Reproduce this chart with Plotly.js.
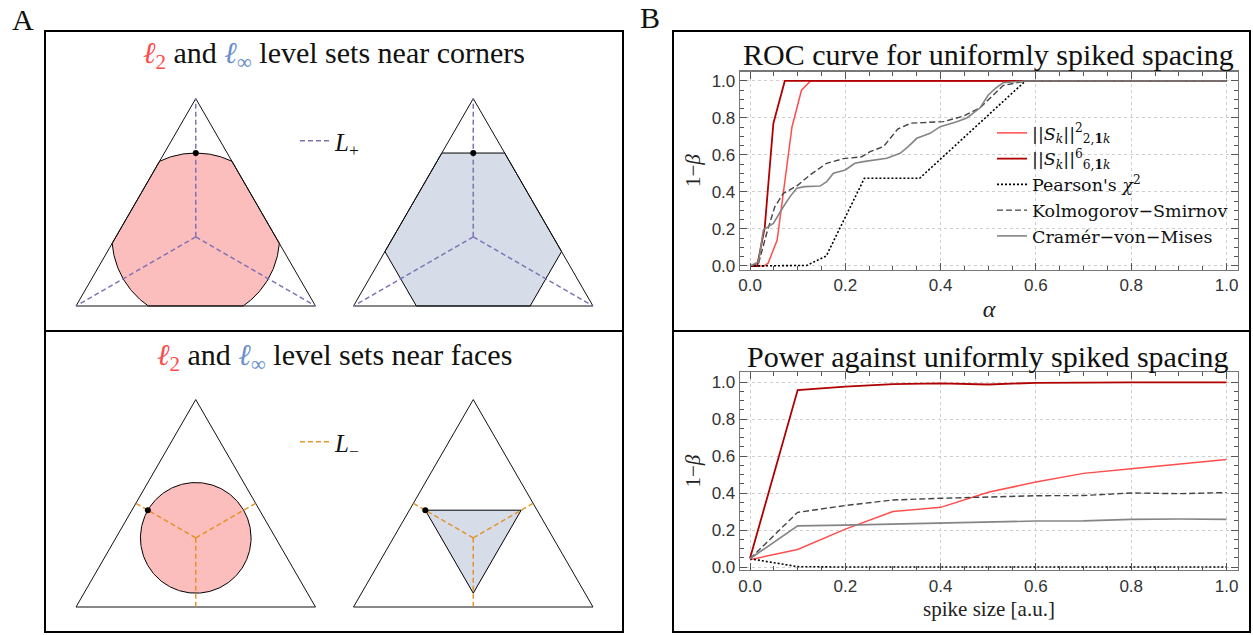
<!DOCTYPE html>
<html><head><meta charset="utf-8">
<script src="https://cdn.plot.ly/plotly-3.0.1.min.js"></script>
<style>html,body{margin:0;padding:0;background:#fff}#chart{width:1253px;height:635px}</style>
</head><body><div id="chart"></div>
<script>
const W = 1253, H = 635;

// ---------- Panel B (top): ROC curve for uniformly spiked spacing ----------
const rocL2X  = [0, 0.03, 0.038, 0.057, 0.088, 0.108, 0.127, 1.0];
const rocL2Y  = [0, 0, 0.015, 0.14, 0.75, 0.95, 1.0, 1.0];
const rocL6X  = [0, 0.015, 0.031, 0.049, 0.073, 1.0];
const rocL6Y  = [0, 0, 0.21, 0.77, 1.0, 1.0];
const rocChiX = [0, 0.119, 0.16, 0.24, 0.356, 0.578, 1.0];
const rocChiY = [0, 0.003, 0.054, 0.474, 0.474, 1.0, 1.0];
const rocKSX  = [0, 0.018, 0.035, 0.052, 0.07, 0.098, 0.126, 0.161, 0.196, 0.234, 0.252, 0.28, 0.31, 0.338, 0.364, 0.406, 0.448, 0.483, 0.531, 0.578, 1.0];
const rocKSY  = [0, 0.014, 0.177, 0.32, 0.393, 0.432, 0.492, 0.555, 0.58, 0.59, 0.618, 0.645, 0.74, 0.772, 0.775, 0.78, 0.81, 0.855, 0.975, 1.0, 1.0];
const rocCvMX = [0, 0.018, 0.028, 0.049, 0.07, 0.084, 0.098, 0.115, 0.147, 0.161, 0.175, 0.2, 0.22, 0.238, 0.287, 0.315, 0.332, 0.35, 0.378, 0.399, 0.434, 0.455, 0.483, 0.5, 0.515, 0.531, 0.578, 1.0];
const rocCvMY = [0, 0.023, 0.195, 0.23, 0.32, 0.375, 0.42, 0.429, 0.432, 0.456, 0.501, 0.519, 0.555, 0.564, 0.582, 0.609, 0.645, 0.69, 0.717, 0.753, 0.78, 0.80, 0.855, 0.924, 0.96, 0.99, 1.0, 1.0];

// ---------- Panel B (bottom): Power against uniformly spiked spacing ----------
const spikeSize = [0, 0.1, 0.2, 0.3, 0.4, 0.5, 0.6, 0.7, 0.8, 0.9, 1.0];
const powL2  = [0.04, 0.095, 0.205, 0.30, 0.323, 0.405, 0.46, 0.507, 0.532, 0.555, 0.582];
const powL6  = [0.047, 0.958, 0.976, 0.99, 0.994, 0.988, 0.997, 1.0, 1.0, 1.0, 1.0];
const powChi = [0.045, 0.002, 0, 0, 0, 0, 0, 0, 0, 0, 0];
const powKS  = [0.045, 0.296, 0.333, 0.363, 0.372, 0.378, 0.386, 0.387, 0.401, 0.397, 0.403];
const powCvM = [0.045, 0.223, 0.227, 0.232, 0.238, 0.245, 0.249, 0.25, 0.258, 0.26, 0.258];

const seriesNames = [
  '||<i>S</i><sub><i>k</i></sub>||<sup>2</sup><sub>2,<b>1</b><i>k</i></sub>',
  '||<i>S</i><sub><i>k</i></sub>||<sup>6</sup><sub>6,<b>1</b><i>k</i></sub>',
  "Pearson's <i>χ</i><sup>2</sup>",
  'Kolmogorov−Smirnov',
  'Cramér−von−Mises'
];
const tickValues = [0, 0.2, 0.4, 0.6, 0.8, 1.0];

// ---------- Panel A: simplex geometry ----------
const simplexX = [0, 1, 0.5];
const simplexY = [0, 0, 0.8660254];
const cornerLevel = [0.35];   // l2 radius / l_inf inradius near corners
const faceLevel   = [0.231];  // l2 radius / l_inf circumradius near faces

// ---------- styles ----------
const serif = 'Liberation Serif, Times New Roman, serif';
const legSerif = 'DejaVu Serif, Liberation Serif, serif';
const sans = 'Liberation Sans, Arial, sans-serif';
const lineStyles = [
  {color:'#ff4d4d', width:1.5},
  {color:'#b00000', width:1.8},
  {color:'#000000', width:1.6, dash:'2px,2px'},
  {color:'#444444', width:1.4, dash:'6px,3px'},
  {color:'#858585', width:1.6}
];

const traces = [];
const rocX = [rocL2X, rocL6X, rocChiX, rocKSX, rocCvMX];
const rocY = [rocL2Y, rocL6Y, rocChiY, rocKSY, rocCvMY];
const powY = [powL2, powL6, powChi, powKS, powCvM];
for (let i = 0; i < 5; i++) {
  traces.push({x: rocX[i], y: rocY[i], type:'scatter', mode:'lines', name: seriesNames[i],
    line: lineStyles[i], xaxis:'x', yaxis:'y', legend:'legend', showlegend:true});
}
for (let i = 0; i < 5; i++) {
  traces.push({x: spikeSize, y: powY[i], type:'scatter', mode:'lines', name: seriesNames[i],
    line: lineStyles[i], xaxis:'x2', yaxis:'y2', showlegend:false});
}

// geometry helpers
const V = simplexX.map((x, i) => [x, simplexY[i]]);
const C = [V.reduce((s,p)=>s+p[0],0)/3, V.reduce((s,p)=>s+p[1],0)/3];
function clipPolygon(poly, clip) {
  let out = poly;
  for (let i = 0; i < clip.length; i++) {
    const a = clip[i], b = clip[(i+1)%clip.length];
    const side = p => (b[0]-a[0])*(p[1]-a[1]) - (b[1]-a[1])*(p[0]-a[0]);
    const inter = (p, q) => { const d1 = side(p), d2 = side(q), t = d1/(d1-d2);
      return [p[0]+t*(q[0]-p[0]), p[1]+t*(q[1]-p[1])]; };
    const input = out; out = [];
    for (let j = 0; j < input.length; j++) {
      const cur = input[j], prev = input[(j+input.length-1)%input.length];
      if (side(cur) >= -1e-12) { if (side(prev) < -1e-12) out.push(inter(prev,cur)); out.push(cur); }
      else if (side(prev) >= -1e-12) out.push(inter(prev,cur));
    }
  }
  return out;
}
function circlePoly(r) { const p=[]; for (let k=0;k<360;k++){const t=k*Math.PI/180; p.push([C[0]+r*Math.cos(t), C[1]+r*Math.sin(t)]);} return p; }
function invTriPoly(R) { return [30,150,270].map(d=>[C[0]+R*Math.cos(d*Math.PI/180), C[1]+R*Math.sin(d*Math.PI/180)]); }
function closeXY(poly) { const q = poly.concat([poly[0]]); return {x:q.map(p=>p[0]), y:q.map(p=>p[1])}; }
function segs(targets) { const x=[], y=[]; targets.forEach(t=>{x.push(C[0],t[0],null); y.push(C[1],t[1],null);}); return {x,y}; }
const mids = V.map((p,i)=>{const q=V[(i+1)%3]; return [(p[0]+q[0])/2,(p[1]+q[1])/2];});

const purple = '#7d72b6', orange = 'rgba(226,140,20,0.9)';
const pink = '#fcbdbd', blue = '#d6dde9';
const panels = [
  {ax:'3', poly: clipPolygon(circlePoly(cornerLevel[0]), V), fill: pink, lines: segs(V), lc: purple,
   dot:[C[0], C[1]+cornerLevel[0]], leg:'legend2', lname:'<i>L</i><sub>+</sub>'},
  {ax:'4', poly: clipPolygon(invTriPoly(2*cornerLevel[0]), V), fill: blue, lines: segs(V), lc: purple,
   dot:[C[0], C[1]+cornerLevel[0]]},
  {ax:'5', poly: clipPolygon(circlePoly(faceLevel[0]), V), fill: pink, lines: segs(mids), lc: orange,
   dot:[C[0]+faceLevel[0]*Math.cos(5*Math.PI/6), C[1]+faceLevel[0]*Math.sin(5*Math.PI/6)], leg:'legend3', lname:'<i>L</i><sub>−</sub>'},
  {ax:'6', poly: clipPolygon(invTriPoly(faceLevel[0]), V), fill: blue, lines: segs(mids), lc: orange,
   dot:[C[0]+faceLevel[0]*Math.cos(5*Math.PI/6), C[1]+faceLevel[0]*Math.sin(5*Math.PI/6)]}
];
panels.forEach(p => {
  const xa = 'x'+p.ax, ya = 'y'+p.ax;
  const sh = closeXY(p.poly), tri = closeXY(V);
  traces.push({x: sh.x, y: sh.y, type:'scatter', mode:'lines', fill:'toself', fillcolor:p.fill,
    line:{color:'#000', width:1}, xaxis:xa, yaxis:ya, showlegend:false, hoverinfo:'skip'});
  traces.push({x: tri.x, y: tri.y, type:'scatter', mode:'lines', line:{color:'#111', width:1},
    xaxis:xa, yaxis:ya, showlegend:false, hoverinfo:'skip'});
  traces.push({x: p.lines.x, y: p.lines.y, type:'scatter', mode:'lines', name: p.lname || '',
    line:{color:p.lc, width:1.5, dash:'5px,3px'}, xaxis:xa, yaxis:ya,
    showlegend: !!p.leg, legend: p.leg || 'legend', hoverinfo:'skip'});
  traces.push({x:[p.dot[0]], y:[p.dot[1]], type:'scatter', mode:'markers', marker:{color:'#000', size:6},
    xaxis:xa, yaxis:ya, showlegend:false, hoverinfo:'skip'});
});

// ---------- layout ----------
const frameAxis = (extra) => Object.assign({
  ticks:'inside', ticklen:7, tickwidth:1, tickcolor:'#555', mirror:'allticks',
  showline:true, linecolor:'#777', linewidth:1.3, tickvals: tickValues, tickformat:'.1f',
  tickfont:{family:sans, size:17, color:'#333'}, showgrid:true, gridcolor:'#cfcfcf', griddash:'dot',
  gridwidth:1, zeroline:false, fixedrange:true,
  minor:{ticks:'inside', ticklen:4, tickwidth:1, tickcolor:'#555', dtick:0.05, tick0:0, showgrid:false}
}, extra);

const px2x = px => px/W, py2y = py => 1 - py/H;
function geoAxes(ox, oy) {
  const s = 239.5, pad = 0.05;
  return [
    {domain:[px2x(ox-pad*s), px2x(ox+(1+pad)*s)], range:[-pad, 1+pad], visible:false, fixedrange:true},
    {domain:[py2y(oy+pad*s), py2y(oy-(0.8660254+pad)*s)], range:[-pad, 0.8660254+pad], visible:false, fixedrange:true}
  ];
}
const g3 = geoAxes(76, 306), g4 = geoAxes(353.5, 306), g5 = geoAxes(76, 607), g6 = geoAxes(353.5, 607);

function ann(px, py, text, size, extra) {
  return Object.assign({x:px2x(px), y:py2y(py), xref:'paper', yref:'paper', text, showarrow:false,
    xanchor:'center', yanchor:'middle', font:{family:serif, size, color:'#111'}}, extra || {});
}
const rect = (x0,y0,x1,y1) => ({type:'rect', xref:'paper', yref:'paper', x0:px2x(x0), x1:px2x(x1),
  y0:py2y(y0), y1:py2y(y1), line:{color:'#000', width:2}, fillcolor:'rgba(0,0,0,0)'});

const red = '#ff4b4b', blu = '#6b8fcc';
const layout = {
  width: W, height: H, margin:{l:0, r:0, t:0, b:0}, paper_bgcolor:'#fff', plot_bgcolor:'#fff',
  showlegend:true,
  xaxis: frameAxis({domain:[px2x(740), px2x(1238)], range:[-0.021, 1.0241], anchor:'y',
    title:{text:'<i>α</i>', font:{family:serif, size:24, color:'#222'}, standoff:6}}),
  yaxis: frameAxis({domain:[py2y(269.5), py2y(71.7)], range:[-0.019, 1.05], anchor:'x',
    title:{text:'1−<i>β</i>', font:{family:serif, size:21, color:'#222'}, standoff:5}}),
  xaxis2: frameAxis({domain:[px2x(740), px2x(1238)], range:[-0.021, 1.0241], anchor:'y2',
    title:{text:'spike size [a.u.]', font:{family:serif, size:21, color:'#222'}, standoff:6}}),
  yaxis2: frameAxis({domain:[py2y(570), py2y(372.3)], range:[-0.016, 1.054], anchor:'x2',
    title:{text:'1−<i>β</i>', font:{family:serif, size:21, color:'#222'}, standoff:5}}),
  xaxis3: Object.assign(g3[0], {anchor:'y3'}), yaxis3: Object.assign(g3[1], {anchor:'x3'}),
  xaxis4: Object.assign(g4[0], {anchor:'y4'}), yaxis4: Object.assign(g4[1], {anchor:'x4'}),
  xaxis5: Object.assign(g5[0], {anchor:'y5'}), yaxis5: Object.assign(g5[1], {anchor:'x5'}),
  xaxis6: Object.assign(g6[0], {anchor:'y6'}), yaxis6: Object.assign(g6[1], {anchor:'x6'}),
  legend: {x:px2x(992), y:py2y(115), xanchor:'left', yanchor:'top', bgcolor:'rgba(255,255,255,0)',
    font:{family:legSerif, size:17.5, color:'#111'}, tracegroupgap:0, itemwidth:30},
  legend2: {x:px2x(295), y:py2y(141), xanchor:'left', yanchor:'middle', bgcolor:'rgba(0,0,0,0)',
    font:{family:serif, size:25, color:'#111'}, itemwidth:30},
  legend3: {x:px2x(295), y:py2y(442), xanchor:'left', yanchor:'middle', bgcolor:'rgba(0,0,0,0)',
    font:{family:serif, size:25, color:'#111'}, itemwidth:30},
  shapes: [rect(45,31,623,331), rect(45,331,623,632), rect(673,31,1250,331), rect(673,331,1250,632)],
  annotations: [
    ann(23, 19, 'A', 30), ann(650, 18, 'B', 30),
    ann(334, 55, `<span style="color:${red}"><i>ℓ</i><sub>2</sub></span> and <span style="color:${blu}"><i>ℓ</i><sub>∞</sub></span> level sets near corners`, 30),
    ann(334, 357, `<span style="color:${red}"><i>ℓ</i><sub>2</sub></span> and <span style="color:${blu}"><i>ℓ</i><sub>∞</sub></span> level sets near faces`, 30),
    ann(988, 55, 'ROC curve for uniformly spiked spacing', 30),
    ann(988, 356, 'Power against uniformly spiked spacing', 30)
  ]
};
Plotly.newPlot('chart', traces, layout, {displayModeBar:false, staticPlot:true});
</script></body></html>
